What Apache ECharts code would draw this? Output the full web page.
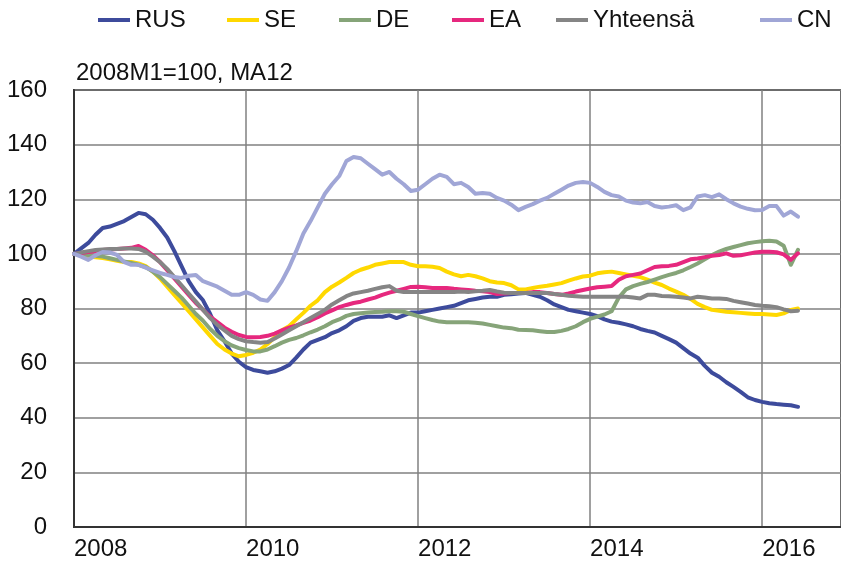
<!DOCTYPE html>
<html>
<head>
<meta charset="utf-8">
<script src="https://cdn.jsdelivr.net/npm/echarts@6/dist/echarts.min.js"></script>
<style>html,body{margin:0;padding:0;background:#fff;}#c{width:841px;height:569px;}</style>
</head>
<body>
<div id="c"></div>
<script>
// Months since 2008M1 (0 = 2008M1 ... 101 = 2016M6)
const months = Array.from({length: 102}, (_, i) => i);
const yTicks = [0, 20, 40, 60, 80, 100, 120, 140, 160];
const xTickYears = [2008, 2010, 2012, 2014, 2016];
const seriesNames = ['RUS', 'SE', 'DE', 'EA', 'Yhteensä', 'CN'];

const RUS = [100,102,104,107,109.5,110,111,112,113.5,115,114.5,112.5,109.5,106,101,95.5,90,86,83,78,72,68,63.5,60.5,
58.5,57.5,57,56.5,57,58,59.3,62,65,67.5,68.5,69.5,71,72,73.5,75.5,76.5,77,77,77,77.5,76.5,77.5,78.5,
78.5,79,79.5,80,80.5,81,82,83,83.5,84,84.3,84.3,85,85.2,85.5,85.7,85,84.3,83,81.5,80.5,79.5,79,78.5,
78,77.2,76,75.2,74.8,74.2,73.5,72.5,71.8,71.2,70,68.8,67.5,65.5,63.5,62,59,56.5,55,53,51.3,49.5,47.5,46.5,
45.8,45.3,45,44.8,44.6,44];
const SE = [100,99.5,99,98.8,98.5,98,97.5,97,97,96.5,95.5,93.5,91,88,85,82,79,76,73,70,67,65,63.5,62.5,
63,63.8,65,67,69.5,72,73.5,76,78.4,81,83,86,88,89.5,91.2,93,94.2,95,96,96.5,97,97,97,96,
95.5,95.5,95.3,94.8,93.5,92.5,91.8,92.3,91.8,91,90,89.5,89.3,88.5,87,87,87.5,88,88.3,88.8,89.3,90.2,91,91.7,
92,92.9,93.3,93.5,93,92.5,92,91.5,90.6,89.5,88.6,87.3,86.2,85,83.5,81.7,80.5,79.5,79.2,78.8,78.6,78.4,78.2,78,
78,77.8,77.6,78.2,79.5,80];
const DE = [100,99.8,99.6,99.3,99,98.4,97.8,97.2,96.7,96,95.2,93.5,91.5,89,86.5,84,81,78,75.5,72.5,70,68,66.5,65.5,
64.8,64.3,64.3,65,66.2,67.5,68.5,69.2,70.2,71.3,72.3,73.5,75,76,77.3,78,78.3,78.5,78.7,78.8,79,79,78.8,78,
77.2,76.5,75.8,75.2,75,75,75,75,74.8,74.5,74,73.5,73,72.8,72.2,72.1,72,71.7,71.4,71.4,71.8,72.5,73.5,75,
76.2,77,77.8,79,84,87,88.2,89,89.7,90.6,91.5,92.3,93,94,95.2,96.5,98,99.6,100.8,101.8,102.5,103.2,103.9,104.3,
104.6,104.8,104.5,103,96,101.5];
const EA = [100,100.3,100.7,101,101.4,101.6,101.8,102,102.2,102.9,101.5,99.5,97,94,91,88,85,82,79.5,77,75,73,71.5,70.3,
69.6,69.5,69.6,70,70.8,72,73,73.8,74.7,75.6,76.8,78.2,79.3,80.5,81.3,82,82.5,83.3,84,85,85.8,86.5,87.2,87.9,
88,87.8,87.5,87.5,87.5,87.2,87,86.8,86.5,86.3,86,85.3,85.5,85.7,85.7,85.7,86,86,85.7,85.3,85,85.5,86.2,86.8,
87.3,87.8,88,88.2,90.5,91.8,92.3,92.8,94,95.2,95.5,95.6,96,97,98,98.3,98.8,99.3,99.6,100.2,99.3,99.5,100,100.5,
100.8,100.8,100.6,99.8,97.8,100.2];
const TOTAL = [100,100.5,101,101.4,101.6,101.8,101.8,102,102,101.8,100.8,99,97,94.5,91.5,88.5,85.5,82.5,79.5,76.5,74,72,70,68.8,
68,67.7,67.5,67.7,69,70.5,72,73.5,75,76.5,78,79.5,81.5,83,84.5,85.5,86,86.5,87.2,87.8,88.2,86.5,86,86,
86,86,86,86,86,86,86.2,86,86.3,86.5,86.8,86.2,85.8,85.7,85.7,85.7,85.7,85.7,85.7,85.3,85,84.7,84.5,84.3,
84.3,84.3,84.3,84.3,84.3,84.3,84,83.7,85,85,84.6,84.5,84.3,84,83.7,84.3,84,83.7,83.7,83.5,82.8,82.3,81.8,81.3,
81,80.8,80.5,79.7,79,79.2];
const CN = [100,99,97.8,99.5,100.7,100.5,99.6,97,96,96,95,94,93,92.3,91.5,91.2,92,92.3,90,89,88,86.5,85,85,
86,85,83.3,82.8,86,90,95,101,107.5,112,117,122,125.5,128.5,134,135.5,135,133,131,129,130,127.5,125.5,123,
123.5,125.5,127.5,129,128.2,125.5,126,124.5,122,122.3,122,120.5,119.5,118,116,117.2,118.2,119.5,120.5,122,123.5,125,126,126.3,
126,124.5,122.7,121.5,121,119.5,118.8,118.5,119,117.5,117,117.3,117.8,116,117,121,121.5,120.8,121.8,120,118.5,117.3,116.5,116,
116.1,117.5,117.5,114,115.5,113.6];

const colors = ['#3d4b9c', '#ffd800', '#86a479', '#e6287e', '#858585', '#a0a6d6'];
const dataArr = [RUS, SE, DE, EA, TOTAL, CN];
const legendLeft = [98, 227, 339, 452, 556, 760];

const chart = echarts.init(document.getElementById('c'));
const FONT = 'Liberation Sans, Arial, sans-serif';
chart.setOption({
  animation: false,
  backgroundColor: '#fff',
  color: colors,
  textStyle: {fontFamily: FONT},
  title: {
    text: '2008M1=100, MA12',
    left: 76, top: 61, padding: 0,
    textStyle: {fontSize: 24, fontWeight: 'normal', color: '#111', fontFamily: FONT}
  },
  legend: seriesNames.map((n, i) => ({
    top: 8, left: legendLeft[i], padding: 0,
    itemWidth: 32, itemHeight: 4,
    icon: 'rect',
    textStyle: {fontSize: 24, color: '#111', fontFamily: FONT},
    data: [n]
  })),
  grid: {left: 74, top: 90, right: -2, bottom: 42, show: true, borderColor: '#333', borderWidth: 2},
  xAxis: {
    type: 'value', min: 0, max: 107, interval: 24,
    axisLine: {show: true, onZero: false, lineStyle: {color: '#333', width: 2}},
    axisTick: {show: false},
    splitLine: {show: true, lineStyle: {color: '#808080', width: 1.5}},
    axisLabel: {
      fontSize: 24, color: '#111', margin: 10, align: 'left',
      showMaxLabel: false,
      formatter: v => (v % 24 === 0 ? String(2008 + v / 12) : '')
    }
  },
  yAxis: {
    type: 'value', min: 0, max: 160, interval: 20,
    axisLine: {show: true, lineStyle: {color: '#333', width: 2}},
    axisTick: {show: false},
    splitLine: {show: true, lineStyle: {color: '#808080', width: 1.5}},
    axisLabel: {fontSize: 24, color: '#111', margin: 27}
  },
  series: seriesNames.map((n, i) => ({
    name: n, type: 'line', showSymbol: false, symbol: 'none',
    lineStyle: {width: 4, color: colors[i], cap: 'round', join: 'round'},
    data: months.map((m, j) => [m, dataArr[i][j]])
  }))
});
</script>
</body>
</html>
